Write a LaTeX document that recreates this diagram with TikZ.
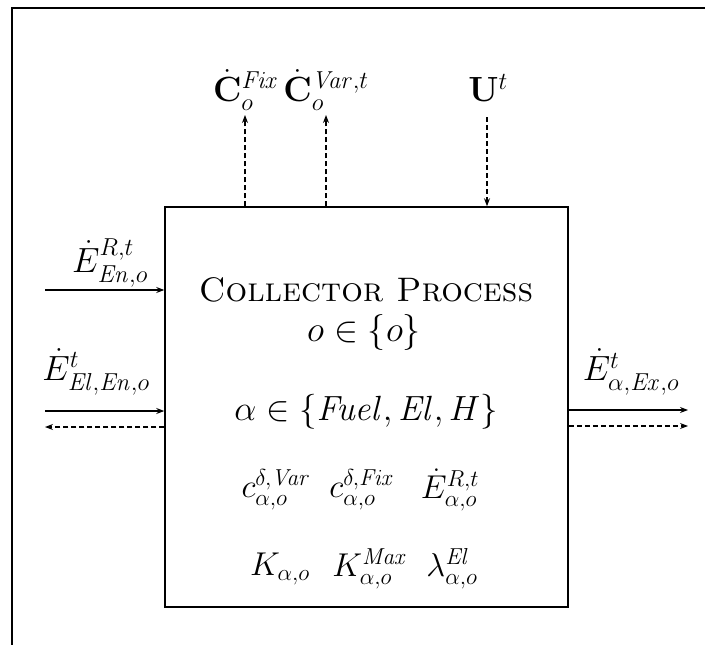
\RequirePackage{fix-cm}
\documentclass[tikz,border=0pt]{standalone}
\usepackage{amsmath,amssymb}
\usetikzlibrary{arrows.meta}

\begin{document}
\begin{tikzpicture}[x=1pt, y=-1pt,
  every node/.style={inner sep=0pt},
  lbl/.style={font=\fontsize{35}{40}\selectfont},
  setlbl/.style={font=\fontsize{36}{42}\selectfont},
  parlbl/.style={font=\fontsize{33}{38}\selectfont},
  flow/.style={line width=1.2pt, -{Stealth[length=8pt, width=6pt]}},
  flowd/.style={flow, dashed, dash pattern=on 5pt off 3pt}]

\useasboundingbox (0,0) rectangle (705,645);

%% ── Page frame (scan edge) ───────────────────────────────────────────────────
\draw[line width=1.2pt] (12,645) -- (12,8) -- (705,8);

%% ── Process box ──────────────────────────────────────────────────────────────
\node[draw, line width=1.5pt, minimum width=403pt, minimum height=400pt]
  (proc) at (366.5,407) {};

\node[font=\fontsize{34}{40}\selectfont] (title) at (366,290)
  {\textsc{Collector Process}};
\node[setlbl] (oset) at (364,332) {$o\in\{o\}$};
\node[font=\fontsize{35}{40}\selectfont] (aset) at (366,412)
  {$\alpha\in\{\mathit{Fuel},\mathit{El},H\}$};

\node[parlbl] (cvar) at (276,490) {$c_{\alpha,o}^{\delta,\mathit{Var}}$};
\node[parlbl] (cfix) at (362,490) {$c_{\alpha,o}^{\delta,\mathit{Fix}}$};
\node[parlbl] (erat) at (450,490) {$\dot E_{\alpha,o}^{R,t}$};

\node[parlbl] (kap)  at (280,569) {$K_{\alpha,o}$};
\node[parlbl] (kmax) at (370,569) {$K_{\alpha,o}^{\mathit{Max}}$};
\node[parlbl] (lam)  at (452,569) {$\lambda_{\alpha,o}^{\mathit{El}}$};

%% ── Top: costs out, utilisation in ───────────────────────────────────────────
\node[lbl] (cfixo) at (246,90) {$\dot{\mathbf{C}}_o^{\mathit{Fix}}$};
\node[lbl] (cvaro) at (326,90) {$\dot{\mathbf{C}}_o^{\mathit{Var},t}$};
\node[lbl] (ut)    at (488,88) {$\mathbf{U}^t$};

\coordinate (cfixt) at (245,115);
\coordinate (cvart) at (326,115);
\coordinate (utt)   at (487,117);

\draw[flowd] (proc.north -| cfixt) -- (cfixt);
\draw[flowd] (proc.north -| cvart) -- (cvart);
\draw[flowd] (utt) -- (proc.north -| utt);

%% ── Left: energy in ──────────────────────────────────────────────────────────
\node[lbl] (eren) at (110,263) {$\dot E_{\mathit{En},o}^{R,t}$};
\node[lbl] (elen) at (96,372)  {$\dot E_{\mathit{El},\mathit{En},o}^{t}$};

\coordinate (inR)  at (45,290);
\coordinate (inE)  at (45,411);
\coordinate (outE) at (45,427);

\draw[flow]  (inR) -- (proc.west |- inR);
\draw[flow]  (inE) -- (proc.west |- inE);
\draw[flowd] (proc.west |- outE) -- (outE);

%% ── Right: energy out ────────────────────────────────────────────────────────
\node[lbl] (eex) at (631,372) {$\dot E_{\alpha,\mathit{Ex},o}^{t}$};

\coordinate (exS) at (688,410);
\coordinate (exD) at (688,426);

\draw[flow]  (proc.east |- exS) -- (exS);
\draw[flowd] (proc.east |- exD) -- (exD);

\end{tikzpicture}
\end{document}
